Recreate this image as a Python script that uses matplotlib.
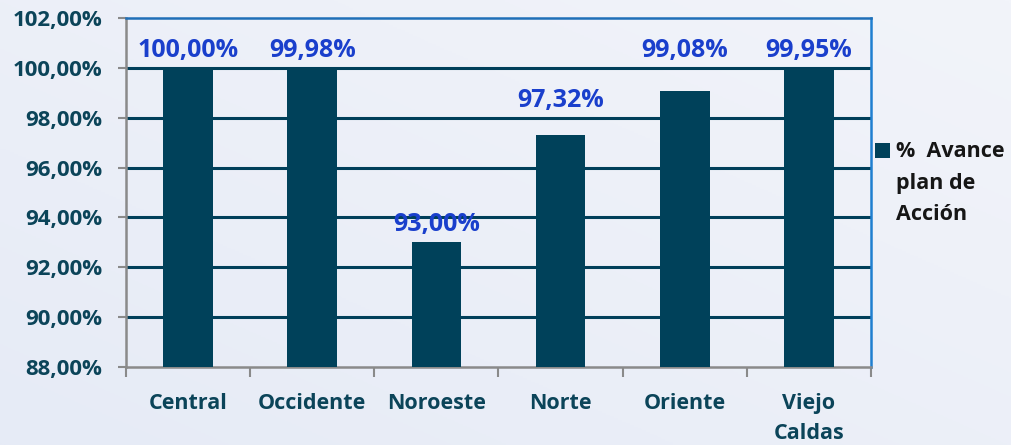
import matplotlib
matplotlib.use("Agg")
import matplotlib.pyplot as plt
import numpy as np
from matplotlib.patches import Rectangle
from matplotlib.colors import LinearSegmentedColormap

categories = ["Central", "Occidente", "Noroeste", "Norte", "Oriente", "Viejo\nCaldas"]
values = [100.00, 99.98, 93.00, 97.32, 99.08, 99.95]
series_name = "% \u00a0Avance\nplan de\nAcción"
yticks = [88, 90, 92, 94, 96, 98, 100, 102]

def fmt(v):
    return f"{v:.2f}".replace(".", ",") + "%"

plt.rcParams["font.family"] = ["Open Sans", "DejaVu Sans"]
plt.rcParams["font.weight"] = "bold"

fig = plt.figure(figsize=(10.11, 4.45), dpi=100)
# gradient background
bg = fig.add_axes([0, 0, 1, 1], zorder=-10)
gx = np.linspace(0, 1, 256)
GX, GY = np.meshgrid(gx, gx)
grad = 0.5 * GX + 0.5 * (1 - GY)
cmap = LinearSegmentedColormap.from_list("bg", ["#e6ebf6", "#f2f4fa"])
bg.imshow(grad, cmap=cmap, aspect="auto", extent=[0, 1, 0, 1], origin="upper")
bg.axis("off")

ax = fig.add_axes([0.1246, 0.1753, 0.7369, 0.7843])
ax.set_facecolor("none")
x = np.arange(len(categories))
bar_color = "#00415a"
ax.bar(x, values, width=0.4, color=bar_color, zorder=3)
ax.set_xlim(-0.5, len(categories) - 0.5)
ax.set_ylim(88, 102)
ax.set_yticks(yticks)
ax.set_yticklabels([fmt(v) for v in yticks])
grid_vals = yticks[1:-1]
for t in grid_vals:
    ax.axhline(t, color="#003f5a", lw=2.2, zorder=1)

ax.set_xticks(np.arange(-0.5, len(categories), 1.0))
ax.set_xticklabels([])
ax.set_xticks(x, minor=True)
ax.set_xticklabels(categories, minor=True, linespacing=1.55, va="top")
ax.tick_params(axis="x", which="minor", length=0, pad=19, labelsize=15.5, labelcolor="#0b4459")
ax.tick_params(axis="x", which="major", length=7, width=1.5, color="#8a8a8a", direction="out")
ax.tick_params(axis="y", length=6, width=1.5, color="#8a8a8a", labelsize=16, labelcolor="#0b4459", pad=11)
for lbl in ax.get_xticklabels(minor=True) + ax.get_yticklabels():
    lbl.set_fontweight("bold")

ax.spines["left"].set_color("#8a8a8a")
ax.spines["bottom"].set_color("#8a8a8a")
ax.spines["left"].set_linewidth(1.8)
ax.spines["bottom"].set_linewidth(1.8)
ax.spines["top"].set_color("#1f6fb8")
ax.spines["right"].set_color("#1f7fd0")
ax.spines["top"].set_linewidth(1.8)
ax.spines["right"].set_linewidth(1.8)

# data labels: placed above the bar, moved above a gridline that would cross them
label_h = 0.95
gap = 0.2
for xi, v in zip(x, values):
    base = v + gap
    for g in grid_vals:
        if v < g < v + label_h:
            base = g + gap
    ax.text(xi, base, fmt(v), ha="center", va="bottom", fontsize=18,
            fontweight="bold", color="#1a3fcc", zorder=5)

# legend
fig.patches.append(Rectangle((0.8655, 0.645), 0.0148, 0.034, transform=fig.transFigure,
                             facecolor=bar_color, edgecolor="none"))
fig.text(0.886, 0.684, series_name, ha="left", va="top", fontsize=15.5,
         fontweight="bold", color="#161616", linespacing=1.68)

fig.savefig("out.png", dpi=100)
